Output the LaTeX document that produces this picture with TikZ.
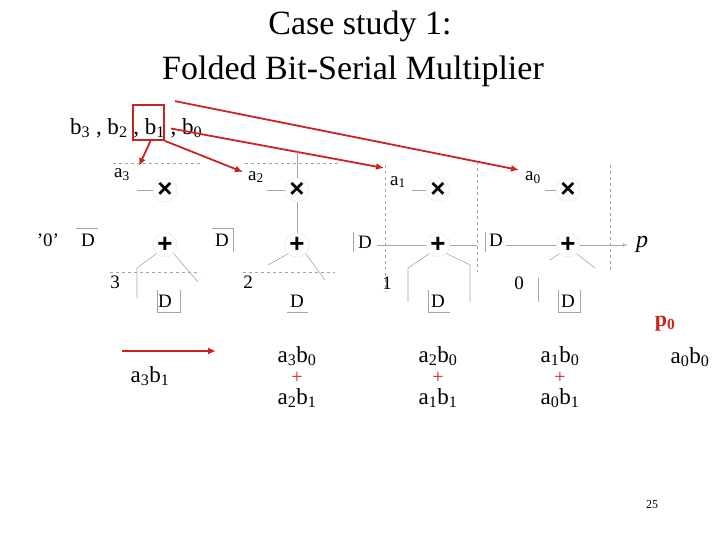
\documentclass[tikz,border=0pt]{standalone}
\usepackage{fontspec}
\setmainfont{Liberation Serif}
\newfontfamily\opfont{Liberation Sans}
\usetikzlibrary{arrows.meta}
\definecolor{rd}{RGB}{204,34,34}
\tikzset{
 ln/.style={gray!70,line width=0.6pt},
 dl/.style={gray!70,dashed,line width=0.6pt},
 ra/.style={rd,line width=1.8pt,-{Latex[length=8pt,width=7pt]}},
 op/.style={circle,draw=gray!60,densely dotted,inner sep=0pt,minimum size=24pt,font=\opfont\fontsize{26}{26}\selectfont\bfseries},
 tx/.style={font=\fontsize{23}{23}\selectfont,inner sep=0pt},
 sm/.style={font=\fontsize{19}{19}\selectfont,inner sep=0pt},
}
\begin{document}
\begin{tikzpicture}[x=1pt,y=-1pt]
\useasboundingbox (0,0) rectangle (720,540);
\node[font=\fontsize{34}{34}\selectfont] (t1) at (360,26) {Case study 1:};
\node[font=\fontsize{34}{34}\selectfont] (t2) at (353,71) {Folded Bit-Serial Multiplier};
\node[tx,anchor=west] (b) at (70,128) {b\textsubscript{3} , b\textsubscript{2} , b\textsubscript{1} , b\textsubscript{0}};
\node[draw=rd,line width=1.8pt,minimum width=31pt,minimum height=35pt,inner sep=0pt] (bx) at (148.5,122.5) {};
\coordinate (e3) at (139,166); \coordinate (e2) at (243,172);
\coordinate (e1) at (384,168); \coordinate (e0) at (519,170);
\draw[ra] (bx.south) ++(2,0) -- (e3);
\draw[ra] (bx.south east) -- (e2);
\draw[ra] (bx.east) ++(6,6) -- (e1);
\draw[ra] (bx.north east) ++(10,-3) -- (e0);
\foreach \n/\x in {3/165,2/297,1/438,0/568}{
 \node[op] (m\n) at (\x,190) {×};
 \node[op] (s\n) at (\x,245) {+};
 \node[sm] (dd\n) at (\x,301) {D};
}
\node[sm] (a3) at (122,175) {a\textsubscript{3}};
\node[sm] (a2) at (256,177) {a\textsubscript{2}};
\node[sm] (a1) at (398,182) {a\textsubscript{1}};
\node[sm] (a0) at (533,178) {a\textsubscript{0}};
\node[sm] (q) at (48,240) {'0'};
\node[sm] (d3) at (88,240) {D};
\node[sm] (d2) at (222,240) {D};
\node[sm] (d1) at (365,242) {D};
\node[sm] (d0) at (496,240) {D};
\node[sm] (n3) at (115,282) {3};
\node[sm] (n2) at (248,282) {2};
\node[sm] (n1) at (387,283) {1};
\node[sm] (n0) at (519,283) {0};
\node[font=\fontsize{24}{24}\selectfont\itshape,inner sep=0pt] (p) at (642,244) {p};
\draw[dl] (113,163) -- (200,163); \draw[dl] (245,163) -- (340,163);
\draw[dl] (110,272) -- (200,272); \draw[dl] (243,272) -- (335,272);
\draw[dl] (385,165) -- (385,292); \draw[dl] (477,162) -- (477,272);
\draw[dl] (610,165) -- (610,272);
\draw[ln] (76,228) -- (98,228); \draw[ln] (212,228) -- (233,228) -- (233,252);
\draw[ln] (353,232) -- (353,252); \draw[ln] (485,232) -- (485,252);
\draw[ln] (137,190) -- (m3.west); \draw[ln] (267,190) -- (m2.west);
\draw[ln] (297,150) -- (m2.north); \draw[ln] (m2.south) -- (s2.north);
\draw[ln] (412,190) -- (m1.west); \draw[ln] (545,190) -- (m0.west);
\draw[ln] (377,245) -- (s1.west); \draw[ln] (s1.east) -- (477,245);
\draw[ln] (506,245) -- (s0.west); \draw[ln,-{Latex[open,length=5pt]}] (s0.east) -- (628,245);
\draw[ln] (137,298) -- (137,268) -- (s3.south west);
\draw[ln] (s3.south east) -- (198,282);
\draw[ln] (268,265) -- (s2.south west); \draw[ln] (s2.south east) -- (325,280);
\draw[ln] (408,302) -- (408,268) -- (s1.south west); \draw[ln] (s1.south east) -- (470,265) -- (470,302);
\draw[ln] (538,278) -- (538,302); \draw[ln] (s0.south west) -- (550,260); \draw[ln] (s0.south east) -- (595,268);
\draw[ln] (157,290) -- (157,312) -- (180,312) -- (180,290);
\draw[ln] (287,312) -- (308,312);
\draw[ln] (428,290) -- (428,312) -- (450,312);
\draw[ln] (558,290) -- (558,312) -- (580,312) -- (580,290);
\coordinate (r1) at (122,351); \coordinate (r2) at (216,351);
\draw[ra] (r1) -- (r2);
\node[tx] (c3) at (150,376) {a\textsubscript{3}b\textsubscript{1}};
\foreach \n/\x/\u/\v in {2/297/3/2,1/438/2/1,0/560/1/0}{
 \node[tx] (h\n) at (\x,356) {a\textsubscript{\u}b\textsubscript{0}};
 \node[font=\fontsize{20}{20}\selectfont,inner sep=0pt,text=rd] (pl\n) at (\x,378) {+};
 \node[tx] (l\n) at (\x,398) {a\textsubscript{\v}b\textsubscript{1}};
}
\node[font=\fontsize{22}{22}\selectfont\bfseries,text=rd,inner sep=0pt] (p0) at (665,324) {p\textsubscript{0}};
\node[tx] (c00) at (690,357) {a\textsubscript{0}b\textsubscript{0}};
\node[font=\fontsize{12}{12}\selectfont,inner sep=0pt] (pg) at (652,505) {25};
\end{tikzpicture}
\end{document}
